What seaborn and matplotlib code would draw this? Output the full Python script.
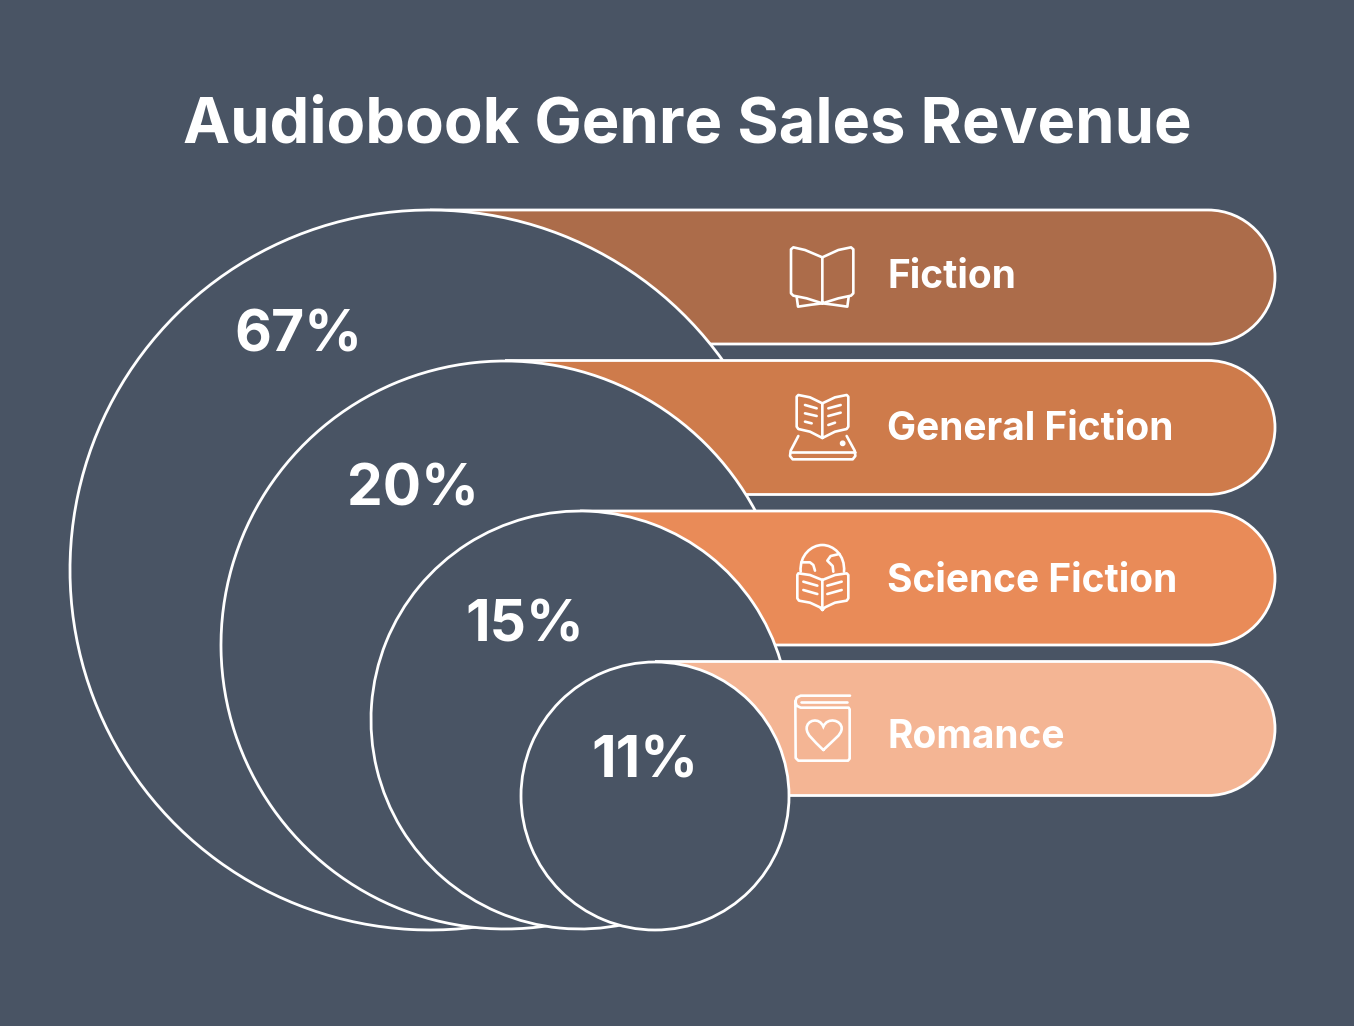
import matplotlib
matplotlib.use('Agg')
import matplotlib.pyplot as plt
from matplotlib.patches import Circle, PathPatch
from matplotlib.path import Path
from matplotlib.transforms import Affine2D
import numpy as np
import pandas as pd
import seaborn as sns

# data
genres = ['Fiction', 'General Fiction', 'Science Fiction', 'Romance']
shares = [67, 20, 15, 11]
colors = ['#AC6C4A', '#CE7B4B', '#E98B58', '#F4B594']

BG = '#495464'
WHITE = '#FFFFFF'
FONT = ['Inter', 'Open Sans', 'DejaVu Sans']
LW = 2.0

# layout in pixels
band_centers = [277, 427.5, 578, 728.5]
band_right = 1275
circle_x = [430, 505, 580, 655]
circle_y = [570, 645, 720, 796]
circle_r = [360, 284, 209, 134]
pct_pos = [(298, 337), (413, 491), (525, 627), (645, 763)]
label_y = [278, 430, 582, 738]

sns.set_theme(style='white', rc={'figure.facecolor': BG, 'axes.facecolor': BG})
plt.rcParams['font.family'] = FONT

fig = plt.figure(figsize=(13.54, 10.26), dpi=100)
ax = fig.add_axes([0, 0, 1, 1])

df = pd.DataFrame({'genre': genres, 'share': shares, 'y': band_centers, 'end': band_right})
sns.barplot(data=df, x='end', y='y', hue='genre', palette=colors, orient='y',
            native_scale=True, width=134 / 150.5, dodge=False, legend=False, ax=ax)
ax.set_xlim(0, 1354)
ax.set_ylim(1026, 0)
ax.axis('off')


def pill(left, top, bottom, right):
    r = (bottom - top) / 2
    k = 0.5523 * r
    mid = (top + bottom) / 2
    verts = [(left, top), (right - r, top),
             (right - r + k, top), (right, mid - k), (right, mid),
             (right, mid + k), (right - r + k, bottom), (right - r, bottom),
             (left, bottom)]
    codes = [Path.MOVETO, Path.LINETO, Path.CURVE4, Path.CURVE4, Path.CURVE4,
             Path.CURVE4, Path.CURVE4, Path.CURVE4, Path.LINETO]
    return Path(verts, codes)


def ring(cx, cy, r, start, end):
    # y runs downwards here, so angles go clockwise on screen
    return Path.arc(start, end).transformed(Affine2D().scale(r).translate(cx, cy))


# swap seaborn's square bars for pills, each pair stacked over the one before
bar_boxes = []
for cont in ax.containers:
    bar = cont[0]
    bar_boxes.append(sorted([bar.get_y(), bar.get_y() + bar.get_height()]) + [bar.get_x() + bar.get_width()])
    bar.set_visible(False)

for i, (top, bottom, right) in enumerate(bar_boxes):
    ax.add_patch(PathPatch(pill(circle_x[i], top, bottom, right),
                           facecolor=colors[i], edgecolor=WHITE, lw=LW, zorder=2 + 2 * i))
    ax.add_patch(Circle((circle_x[i], circle_y[i]), circle_r[i], facecolor=BG,
                        edgecolor='none', zorder=3 + 2 * i))
    # outline stops where the next band starts, the rest of the right side is not drawn
    if i < len(bar_boxes) - 1:
        stop = np.degrees(np.arcsin((bar_boxes[i + 1][0] - circle_y[i]) / circle_r[i]))
        outline = ring(circle_x[i], circle_y[i], circle_r[i], 60, stop + 360)
    else:
        outline = ring(circle_x[i], circle_y[i], circle_r[i], 0, 360)
    ax.add_patch(PathPatch(outline, fill=False, edgecolor=WHITE, lw=LW, zorder=3 + 2 * i))
    ax.text(pct_pos[i][0], pct_pos[i][1], f'{shares[i]}%', color=WHITE, fontsize=41,
            fontweight='bold', ha='center', va='center', zorder=20)
    ax.text(887, label_y[i], genres[i], color=WHITE, fontsize=28, fontweight='bold',
            ha='left', va='center', zorder=20)

ax.text(687, 126, 'Audiobook Genre Sales Revenue', color=WHITE, fontsize=45.5,
        fontweight='bold', ha='center', va='center', zorder=20)


# icons, traced in zoomed coordinates
def stroke(pts, ox, oy, lw=1.9):
    xs = [ox + p[0] / 3 for p in pts]
    ys = [oy + p[1] / 3 for p in pts]
    ax.plot(xs, ys, color=WHITE, lw=lw, solid_joinstyle='round', solid_capstyle='round', zorder=20)


def curve(verts, ox, oy, lw=1.9):
    v = [(ox + p[0] / 3, oy + p[1] / 3) for p in verts]
    codes = [Path.MOVETO] + [Path.CURVE4] * (len(v) - 1)
    ax.add_patch(PathPatch(Path(v, codes), fill=False, edgecolor=WHITE, lw=lw, zorder=20,
                           capstyle='round'))


# Fiction
ox, oy = 770, 230
stroke([(157, 82), (105, 60), (70, 52), (63, 58), (63, 190), (70, 197), (110, 205), (157, 220), (157, 82),
        (205, 60), (243, 52), (250, 58), (250, 190), (243, 197), (205, 205), (157, 220)], ox, oy)
stroke([(80, 200), (84, 230), (125, 224), (157, 220), (190, 224), (232, 230), (236, 200)], ox, oy)

# General Fiction
stroke([(157, 520), (120, 502), (85, 495), (80, 500), (80, 590), (85, 597), (120, 605), (157, 624), (157, 520),
        (195, 502), (230, 495), (235, 500), (235, 590), (230, 597), (195, 605), (157, 624)], ox, oy)
for seg in [[(105, 525), (140, 535)], [(105, 550), (140, 558)], [(105, 575), (125, 580)],
            [(175, 535), (212, 525)], [(175, 558), (212, 548)], [(175, 585), (195, 578)]]:
    stroke(seg, ox, oy)
stroke([(85, 618), (62, 662), (60, 678), (68, 688), (248, 688), (256, 678), (254, 662), (230, 618)], ox, oy)
stroke([(62, 665), (254, 665)], ox, oy)
ax.add_patch(Circle((770 + 218 / 3, 230 + 640 / 3), 2.2, color=WHITE, zorder=20))

# Science Fiction
ox, oy = 770, 530
curve([(92, 125), (88, 75), (125, 45), (157, 45), (190, 45), (226, 75), (222, 125)], ox, oy)
stroke([(94, 97), (120, 97), (130, 105), (135, 122)], ox, oy)
stroke([(208, 72), (182, 78), (172, 92), (188, 108), (190, 125)], ox, oy)
stroke([(157, 150), (120, 135), (85, 130), (82, 135), (82, 205), (87, 212), (120, 218), (150, 232), (157, 240),
        (157, 150), (195, 135), (230, 130), (235, 135), (235, 205), (230, 212), (195, 218), (165, 232), (157, 240)], ox, oy)
for seg in [[(100, 155), (142, 167)], [(100, 180), (142, 192)],
            [(172, 167), (215, 155)], [(172, 192), (215, 180)]]:
    stroke(seg, ox, oy)

# Romance
stroke([(240, 497), (92, 497), (80, 503), (76, 515), (80, 527), (92, 533), (236, 533), (239, 538), (239, 686),
        (234, 692), (85, 692), (77, 684), (76, 515)], ox, oy)
stroke([(92, 515), (232, 515)], ox, oy)
curve([(160, 660), (130, 630), (110, 615), (110, 595), (110, 570), (148, 560), (160, 590),
       (172, 560), (215, 570), (215, 595), (215, 615), (190, 630), (160, 660)], ox, oy)

fig.savefig('out.png', dpi=100, facecolor=BG)
